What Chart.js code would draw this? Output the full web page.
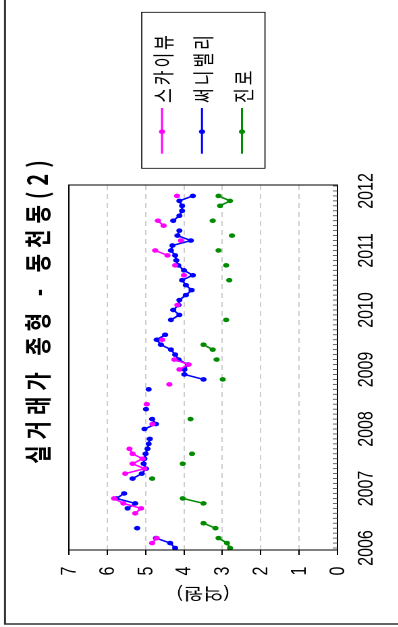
<!DOCTYPE html>
<html>
<head>
<meta charset="utf-8">
<script src="https://cdn.jsdelivr.net/npm/chart.js@4.4.1/dist/chart.umd.min.js"></script>
<style>
  html, body { margin: 0; padding: 0; background: #fff; overflow: hidden; width: 398px; height: 627px; }
  #wrap {
    position: absolute; left: 0; top: 0; width: 627px; height: 295px;
    transform-origin: 0 0;
    transform: translate(0, 627px) scale(1.35, 1) rotate(-90deg);
  }
</style>
</head>
<body>
<div id="wrap"><canvas id="chart" width="627" height="295"></canvas></div>
<script>
// months are counted from 2006-01 (index 0) to 2011-12 (index 71)
const startYear = 2006;
const yearTicks = [2006, 2007, 2008, 2009, 2010, 2011, 2012];
const valueTicks = [0, 1, 2, 3, 4, 5, 6, 7];
const titleText = '실거래가 종형 - 동천동(2)';
const yTitle = '(억원)';
const seriesNames = ['스카이뷰', '써니밸리', '진로'];
const seriesColors = ['#ff00ff', '#0000ff', '#008b00'];

const skyview = [
  null, 4.83, 4.71, null, null, null, null, 5.27, 5.12, 5.58, 5.82, null,
  null, null, null, 5.53, 5.03, 5.34, 5.08, 5.34, 5.42, null, null, null,
  null, 4.82, null, null, null, 4.97, null, null, null, 4.38, null, null,
  4.12, 3.88, 4.25, null, null, null, 4.57, null, null, null, null, null,
  null, 4.17, null, null, null, null, null, 4.00, null, 4.23, null, 4.43,
  4.75, null, 4.08, null, null, 4.53, 4.68, null, null, null, null, 4.18
];
const sunnyValley = [
  4.23, 4.36, 4.73, null, 5.22, null, null, null, 5.47, 5.27, 5.76, 5.56,
  null, null, 5.34, 5.10, 4.99, 5.05, 5.03, 5.00, 4.95, 4.92, 4.89, null,
  5.03, 4.73, 4.83, null, 4.99, null, null, null, 4.92, null, 3.49, 3.99,
  3.99, 3.90, 4.14, 4.23, 4.34, 4.60, 4.71, 4.49, null, null, 4.34, 4.12,
  4.28, 4.14, 4.12, 3.95, 3.80, 3.95, 4.05, 3.77, 4.00, 4.15, 4.20, 4.23,
  4.34, 4.30, 3.82, 4.17, 4.12, null, 4.28, 4.12, 4.05, 4.05, 4.12, 3.77
];
const jinro = [
  2.80, 2.88, 3.10, null, 3.18, 3.49, null, null, null, 3.49, 4.03, null,
  null, null, 4.83, null, null, 4.03, null, 3.79, null, null, null, null,
  null, null, 3.83, null, null, null, null, null, null, null, 2.99, null,
  null, null, 3.15, null, 3.25, 3.49, null, null, null, null, 2.90, null,
  null, null, null, null, null, null, 2.82, null, null, 2.90, null, null,
  3.10, null, null, 2.75, null, null, 3.25, null, null, 3.06, 2.80, 3.10
];

const allSeries = [skyview, sunnyValley, jinro];
const FONT = '"Liberation Sans", Arial, sans-serif';
const KFONT = '"Noto Sans CJK KR", "Liberation Sans", sans-serif';

const datasets = allSeries.map((vals, i) => ({
  label: seriesNames[i],
  data: vals.map((v, m) => ({ x: m, y: v })),
  borderColor: seriesColors[i],
  backgroundColor: seriesColors[i],
  borderWidth: 1.5,
  pointRadius: 2.3,
  pointBorderWidth: 0,
  spanGaps: false,
  tension: 0
}));

const decor = {
  id: 'decor',
  beforeDraw(chart) {
    const ctx = chart.ctx;
    ctx.save();
    ctx.strokeStyle = '#333';
    ctx.lineWidth = 1.5;
    ctx.strokeRect(3, 3.7, 700, 400);
    ctx.restore();
  },
  afterDraw(chart) {
    const ctx = chart.ctx;
    const area = chart.chartArea;
    const xs = chart.scales.x, ys = chart.scales.y;
    ctx.save();

    // plot box
    ctx.strokeStyle = '#000';
    ctx.lineWidth = 1;
    ctx.strokeRect(area.left, area.top, area.right - area.left, area.bottom - area.top);

    // monthly ticks inside the box
    ctx.lineWidth = 0.8;
    ctx.strokeStyle = '#444';
    for (let m = 0; m <= 73; m++) {
      const px = xs.getPixelForValue(m);
      ctx.beginPath();
      ctx.moveTo(px, area.bottom);
      ctx.lineTo(px, area.bottom - 3.5);
      ctx.stroke();
    }

    // value labels
    ctx.fillStyle = '#000';
    ctx.font = '16px ' + FONT;
    ctx.textAlign = 'center';
    ctx.textBaseline = 'middle';
    valueTicks.forEach(v => {
      ctx.fillText(String(v), 56, ys.getPixelForValue(v) + 0.5);
    });

    // axis title
    ctx.save();
    ctx.font = '16px ' + KFONT;
    ctx.translate(33, (area.top + area.bottom) / 2);
    ctx.rotate(-Math.PI / 2);
    ctx.fillText(yTitle, 0, 0);
    ctx.restore();

    // main title
    ctx.save();
    ctx.font = 'bold 20px ' + KFONT;
    if ('letterSpacing' in ctx) ctx.letterSpacing = '6px';
    ctx.fillText(titleText, 318, 28);
    ctx.restore();

    // legend
    ctx.strokeStyle = '#000';
    ctx.lineWidth = 0.8;
    ctx.strokeRect(458.7, 105, 156, 91.3);
    ctx.font = '16px ' + KFONT;
    ctx.textAlign = 'left';
    if ('letterSpacing' in ctx) ctx.letterSpacing = '3px';
    chart.data.datasets.forEach((ds, i) => {
      const y = 120 + i * 29.65;
      ctx.strokeStyle = ds.borderColor;
      ctx.lineWidth = 1.5;
      ctx.beginPath();
      ctx.moveTo(473.3, y);
      ctx.lineTo(519, y);
      ctx.stroke();
      ctx.fillStyle = ds.borderColor;
      ctx.beginPath();
      ctx.arc(495.3, y, 2.3, 0, Math.PI * 2);
      ctx.fill();
      ctx.fillStyle = '#000';
      ctx.fillText(ds.label, 524, y + 1);
    });
    ctx.restore();
  }
};

new Chart(document.getElementById('chart'), {
  type: 'line',
  data: { datasets: datasets },
  options: {
    responsive: false,
    animation: false,
    devicePixelRatio: 2,
    layout: { padding: { left: 0, right: 185, top: 51, bottom: 0 } },
    plugins: {
      legend: { display: false },
      title: { display: false },
      tooltip: { enabled: false }
    },
    scales: {
      x: {
        type: 'linear',
        min: -0.4,
        max: 73.2,
        afterBuildTicks: s => { s.ticks = yearTicks.map(y => ({ value: (y - startYear) * 12 })); },
        afterFit: s => { s.height = 45; },
        ticks: {
          callback: v => String(startYear + v / 12),
          font: { family: FONT, size: 16 },
          color: '#000',
          padding: 12,
          maxRotation: 0,
          autoSkip: false
        },
        grid: { display: false, drawTicks: false },
        border: { display: false }
      },
      y: {
        min: 0,
        max: 7,
        afterBuildTicks: s => { s.ticks = valueTicks.map(v => ({ value: v })); },
        afterFit: s => { s.width = 77; },
        ticks: { display: false },
        grid: {
          color: c => (c.tick && (c.tick.value === 0 || c.tick.value === 7)) ? 'rgba(0,0,0,0)' : '#bdbdbd',
          lineWidth: 0.8,
          tickColor: '#000',
          tickLength: 5,
          tickWidth: 1,
          tickBorderDash: []
        },
        border: { display: false, dash: [5, 4] }
      }
    }
  },
  plugins: [decor]
});
</script>
</body>
</html>
